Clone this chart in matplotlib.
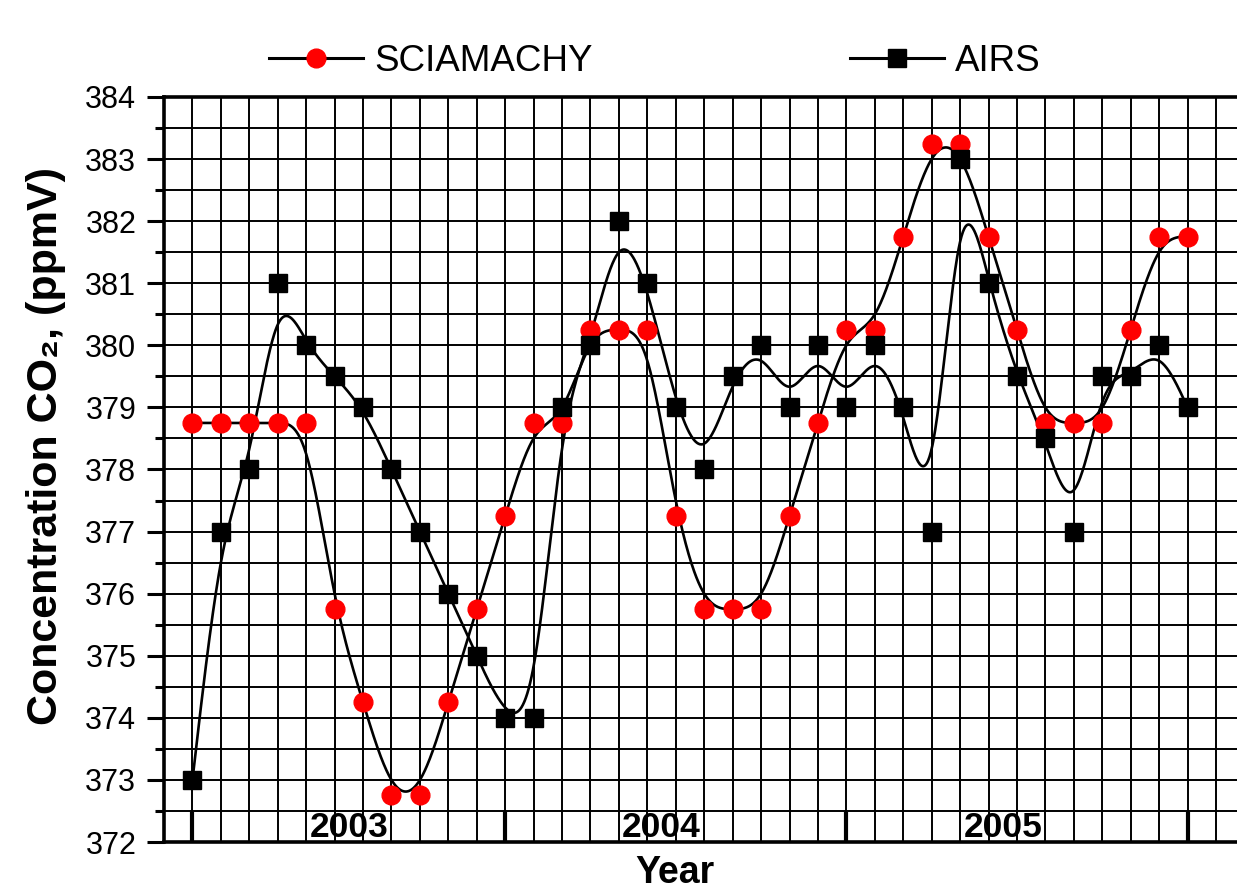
import numpy as np
import matplotlib
matplotlib.use("Agg")
import matplotlib.pyplot as plt
from matplotlib.lines import Line2D
from matplotlib.ticker import MultipleLocator

plt.rcParams['font.family'] = ['Liberation Sans', 'DejaVu Sans']

# monthly samples, Jan 2003 .. Dec 2005
months = np.arange(36)

sciamachy = [378.75, 378.75, 378.75, 378.75, 378.75, 375.75, 374.25, 372.75, 372.75, 374.25,
             375.75, 377.25, 378.75, 378.75, 380.25, 380.25, 380.25, 377.25, 375.75, 375.75,
             375.75, 377.25, 378.75, 380.25, 380.25, 381.75, 383.25, 383.25, 381.75, 380.25,
             378.75, 378.75, 378.75, 380.25, 381.75, 381.75]

airs = [373, 377, 378, 381, 380, 379.5, 379, 378, 377, 376,
        375, 374, 374, 379, 380, 382, 381, 379, 378, 379.5,
        380, 379, 380, 379, 380, 379, 377, 383, 381, 379.5,
        378.5, 377, 379.5, 379.5, 380, 379]

year_labels = ["2003", "2004", "2005"]
year_pos = [5.5, 16.5, 28.5]
year_ticks = [0, 11, 23, 35]


def bspline(x, y, per_seg=40):
    """
    Uniform cubic B-spline using the points as control points
    (end points reflected so the curve starts/ends on the data).
    """
    x = np.asarray(x, float)
    p = np.asarray(y, float)
    p = np.concatenate([[2 * p[0] - p[1]], p, [2 * p[-1] - p[-2]]])
    t = np.linspace(0, 1, per_seg, endpoint=False)
    xs, ys = [], []
    for i in range(len(x) - 1):
        p0, p1, p2, p3 = p[i:i + 4]
        b = ((1 - t) ** 3 * p0 + (3 * t ** 3 - 6 * t ** 2 + 4) * p1
             + (-3 * t ** 3 + 3 * t ** 2 + 3 * t + 1) * p2 + t ** 3 * p3) / 6
        xs.append(x[i] + t * (x[i + 1] - x[i]))
        ys.append(b)
    xs.append([x[-1]])
    ys.append([p[-2]])
    return np.concatenate(xs), np.concatenate(ys)


fig = plt.figure(figsize=(12.37, 8.84), dpi=100)
ax = fig.add_axes([0.1326, 0.0475, 0.8674, 0.8428])

# smooth curves + markers
sx, sy = bspline(months, sciamachy)
ax.plot(sx, sy, color="black", lw=1.9, zorder=3)
ax.plot(months, sciamachy, ls="none", marker="o", ms=13.5, mfc="red", mec="red", zorder=4)

ax_x, ax_y = bspline(months, airs)
ax.plot(ax_x, ax_y, color="black", lw=1.9, zorder=3)
ax.plot(months, airs, ls="none", marker="s", ms=12.5, mfc="black", mec="black", zorder=4)

ax.set_xlim(-1, 36.74)
ax.set_ylim(372, 384)

ax.set_yticks(np.arange(372, 385, 1))
ax.yaxis.set_minor_locator(MultipleLocator(0.5))
ax.set_xticks(year_ticks)
ax.xaxis.set_minor_locator(MultipleLocator(1))
ax.set_xticklabels([])

ax.tick_params(axis="y", which="major", direction="out", length=12, width=2.2,
               labelsize=22, pad=8)
ax.tick_params(axis="y", which="minor", direction="out", length=6.5, width=2.2)
ax.tick_params(axis="x", which="major", direction="in", length=21.5, width=3,
               labelbottom=False)
ax.tick_params(axis="x", which="minor", length=0)

ax.set_axisbelow(True)
ax.grid(which="both", color="black", lw=1.4)

for side in ["left", "bottom", "top"]:
    ax.spines[side].set_linewidth(2.6)
ax.spines["right"].set_visible(False)

for lab, xp in zip(year_labels, year_pos):
    ax.text(xp, 372.08, lab, ha="center", va="baseline", fontsize=25.5,
            fontweight="bold", zorder=5)

ax.set_ylabel("Concentration CO₂, (ppmV)", fontsize=31, fontweight="bold")
ax.yaxis.set_label_coords(-0.0913, 0.532)
ax.set_xlabel("Year", fontsize=27, fontweight="bold")
ax.xaxis.set_label_coords(0.476, -0.018)

handles = [
    Line2D([], [], color="black", lw=2.2, marker="o", ms=13.5, mfc="red", mec="red"),
    Line2D([], [], color="black", lw=2.2, marker="s", ms=12.5, mfc="black", mec="black"),
]
fig.legend(handles, ["SCIAMACHY", "AIRS"], loc="center", bbox_to_anchor=(0.5295, 0.930),
           ncol=2, frameon=False, fontsize=26.5, handlelength=2.55, handletextpad=0.3,
           columnspacing=7.0, numpoints=1)

fig.savefig("out.png", dpi=100)
